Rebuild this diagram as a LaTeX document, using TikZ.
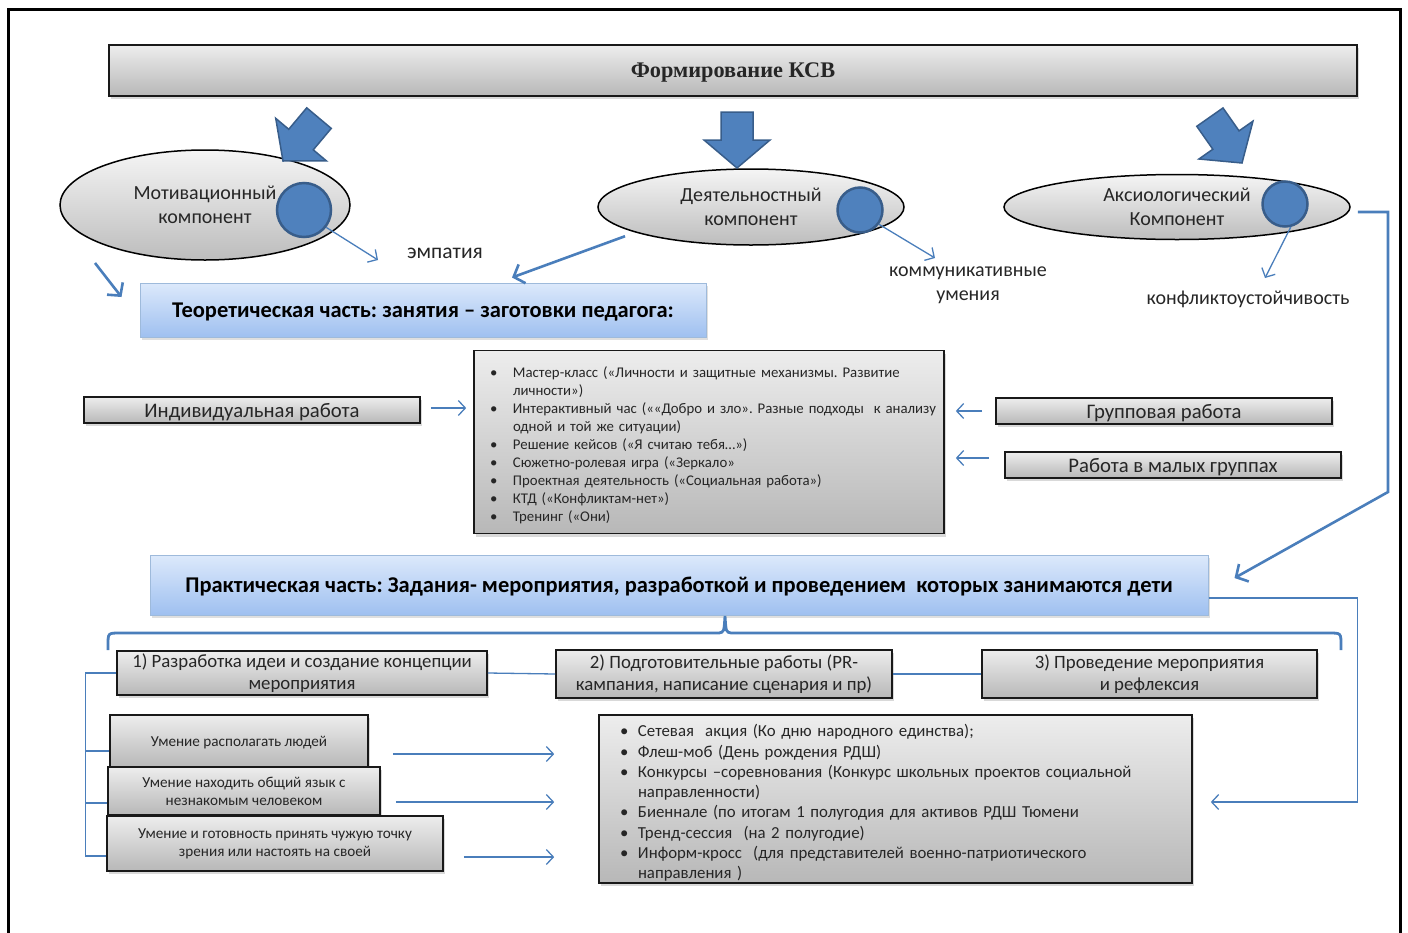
\documentclass[tikz,border=0pt]{standalone}
\usepackage{fontspec}
\setmainfont{Carlito}
\newfontfamily\titlefont{Liberation Serif}
\usetikzlibrary{arrows,arrows.meta,shapes,positioning,shadows,calc}
\definecolor{kbblue}{HTML}{4F81BD}
\definecolor{kbdark}{HTML}{385D8A}
\definecolor{kbline}{HTML}{4A7EBB}
\definecolor{kbsky}{HTML}{DCE9FB}
\definecolor{kbskydark}{HTML}{9FC0F0}
\newlength\bulpos
\newlength\bultext
\newcommand{\bulline}[1]{\par\noindent\hangindent=\bultext\hangafter=1\hbox to\bultext{\hskip\bulpos\textbullet\hfil}#1}
\newcommand{\blockarrow}[3]{%
  \draw[block arrow,shift={(#1,#2)},rotate=#3]
    (0,0) -- (-33,-28) -- (-16,-28) -- (-16,-56) -- (16,-56) -- (16,-28) -- (33,-28) -- cycle;}
\frenchspacing

\begin{document}
\begin{tikzpicture}[x=1pt,y=-1pt,>={Straight Barb[length=7pt,width=15pt]},
					gray box/.style={draw=black!90,line width=1.6pt,top color=black!7,bottom color=black!28,
						drop shadow={shadow xshift=2pt,shadow yshift=-3pt,opacity=0.3},
						inner sep=0pt,align=center,text=black!85},
					blue box/.style={draw=kbblue!55,line width=1pt,top color=kbsky,bottom color=kbskydark,
						drop shadow={shadow xshift=2pt,shadow yshift=-3pt,opacity=0.25},text depth=0pt,
						inner sep=0pt,align=center,font=\fontsize{22.5}{26}\selectfont\bfseries},
					comp node/.style={ellipse,draw=black,line width=1.5pt,top color=black!4,bottom color=black!26,
						align=center,inner sep=0pt,text=black!85,font=\fontsize{20}{24}\selectfont},
					dot node/.style={circle,draw=kbdark,line width=2.5pt,fill=kbblue,inner sep=0pt},
					block arrow/.style={fill=kbblue,draw=kbdark,line width=1.5pt,line join=miter},
					label text/.style={font=\fontsize{20}{24}\selectfont,align=center,inner sep=0pt,text=black!85},
					thin arrow/.style={->,draw=kbline,line width=1.3pt},
					thick arrow/.style={-{Straight Barb[length=9pt,width=20pt]},draw=kbline,line width=2.6pt},
					thin line/.style={draw=kbline,line width=1.3pt}]

	\useasboundingbox (0,0) rectangle (1408,932);
	\draw[line width=3pt] (8,935) -- (8,9) -- (1400,9) -- (1400,935);

	\node[gray box,minimum width=1248,minimum height=51,text depth=0pt,font=\titlefont\bfseries\fontsize{22.3}{26}\selectfont] (title) at (733,70.5) {Формирование КСВ};

	\node[comp node,minimum width=290,minimum height=110] (motiv) at (205,205) {Мотивационный\\компонент};
	\node[comp node,minimum width=306,minimum height=76] (activ) at (751,207) {Деятельностный\\компонент};
	\node[comp node,minimum width=346,minimum height=65] (axio) at (1177,207) {Аксиологический\\Компонент};
	\node[dot node,minimum size=54] (motivdot) at (304,210) {};
	\node[dot node,minimum size=45] (activdot) at (860,210) {};
	\node[dot node,minimum size=45] (axiodot) at (1285,204) {};

	\blockarrow{283}{161}{-40}
	\blockarrow{737}{168}{0}
	\blockarrow{1242}{163}{35}

	\node[label text,font=\fontsize{21.5}{24}\selectfont] (empathy) at (445,253) {эмпатия};
	\node[label text] (comm) at (968,285) {коммуникативные\\умения};
	\node[label text] (conflict) at (1248,299) {конфликтоустойчивость};
	\coordinate (emptip) at (378,260);
	\coordinate (commtip) at (935,258);
	\coordinate (conftip) at (1265,278);
	\coordinate (motivout) at (95,263);
	\coordinate (rightbend) at (1388,492);

	\node[blue box,minimum width=566,minimum height=54] (theory) at (423,310) {Теоретическая часть: занятия – заготовки педагога:};

	\node[gray box,minimum width=470,minimum height=183,text width=466,inner xsep=2pt,align=left,
		font=\fontsize{14.8}{18}\selectfont] (methods) at (709,442) {\bulpos=14pt\bultext=37pt\rightskip=-25pt plus 1fil
		\bulline{Мастер-класс («Личности и защитные механизмы. Развитие\newline личности»)}
		\bulline{Интерактивный час (««Добро и зло». Разные подходы~ к анализу\newline одной и той же ситуации)}
		\bulline{Решение кейсов («Я считаю тебя…»)}
		\bulline{Сюжетно-ролевая игра («Зеркало»}
		\bulline{Проектная деятельность («Социальная работа»)}
		\bulline{КТД («Конфликтам-нет»)}
		\bulline{Тренинг («Они)}\par};

	\node[gray box,minimum width=336,minimum height=26,text depth=0pt,font=\fontsize{20.7}{24}\selectfont] (indiv) at (252,410) {Индивидуальная работа};
	\node[gray box,minimum width=336,minimum height=26,text depth=0pt,font=\fontsize{20.7}{24}\selectfont] (group) at (1164,411) {Групповая работа};
	\node[gray box,minimum width=336,minimum height=26,text depth=0pt,font=\fontsize{20.7}{24}\selectfont] (small) at (1173,465) {Работа в малых группах};

	\node[blue box,minimum width=1058,minimum height=60] (practice) at (679,585) {Практическая часть: Задания- мероприятия, разработкой и проведением~ которых занимаются дети};

	\node[gray box,minimum width=370,minimum height=44,font=\fontsize{18.8}{22.5}\selectfont] (stage1) at (302,673) {1) Разработка идеи и создание концепции\\мероприятия};
	\node[gray box,minimum width=336,minimum height=48,font=\fontsize{18.8}{22.5}\selectfont] (stage2) at (724,674) {2) Подготовительные работы (PR-\\кампания, написание сценария и пр)};
	\node[gray box,minimum width=335,minimum height=48,font=\fontsize{18.8}{22.5}\selectfont] (stage3) at (1149.5,674) {3) Проведение мероприятия\\и рефлексия};

	\node[gray box,minimum width=258,minimum height=52,text depth=0pt,font=\fontsize{15.2}{18}\selectfont] (skill1) at (239,741) {Умение располагать людей};
	\node[gray box,minimum width=272,minimum height=48,font=\fontsize{15.2}{18}\selectfont] (skill2) at (244,791) {Умение находить общий язык с\\незнакомым человеком};
	\node[gray box,minimum width=336,minimum height=55,font=\fontsize{15.2}{18}\selectfont] (skill3) at (275,843.5) {Умение и готовность принять чужую точку\\зрения или настоять на своей};

	\node[gray box,minimum width=593,minimum height=168,text width=583,inner xsep=5pt,align=left,
		font=\fontsize{16.8}{20.3}\selectfont] (events) at (895.5,799) {\bulpos=16pt\bultext=34pt\rightskip=-20pt plus 1fil
		\bulline{Сетевая~ акция (Ко дню народного единства);}
		\bulline{Флеш-моб (День рождения РДШ)}
		\bulline{Конкурсы –соревнования (Конкурс школьных проектов социальной\newline направленности)}
		\bulline{Биеннале (по итогам 1 полугодия для активов РДШ Тюмени}
		\bulline{Тренд-сессия~ (на 2 полугодие)}
		\bulline{Информ-кросс~ (для представителей военно-патриотического\newline направления )}\par};

	\draw[thin arrow] (motivdot.-38) -- (emptip);
	\draw[thin arrow] (activdot.-37) -- (commtip);
	\draw[thin arrow] (axiodot.-76) -- (conftip);
	\draw[thick arrow] (motivout) -- ($(theory.west)+(-18,-13)$);
	\draw[thick arrow] ($(activ.190)+(0,7)$) -- ($(theory.north)+(89,-5)$);
	\draw[thick arrow] ($(axio.east)+(7,5)$) -| (rightbend) -- ($(practice.east)+(26,-7)$);

	\draw[thin arrow] ($(indiv.east)+(10,-2)$) -- ($(methods.west |- indiv.east)+(-7,-2)$);
	\draw[thin arrow] ($(group.west)+(-13,0)$) -- ($(methods.east |- group.west)+(11,0)$);
	\draw[thin arrow] ($(small.west)+(-15,-7)$) -- ($(methods.east |- small.west)+(11,-7)$);

	\coordinate (bracetip) at (725,616);
	\draw[draw=kbline,line width=2.8pt] (108,650) -- (108,645) .. controls (108,633) .. (120,633) -- (719,633) .. controls (724,632) .. (bracetip) .. controls (726,632) .. (731,633) -- (1329,633) .. controls (1341,633) .. (1341,645) -- (1341,650);

	\draw[thin line] (stage1.east) -- (stage2.west);
	\draw[thin line] (stage2.east) -- (stage3.west);
	\draw[thin line] (stage1.west) -| ($(skill3.west)+(-21,12.5)$) -- ($(skill3.west)+(0,12.5)$);
	\draw[thin line] ($(skill1.west)+(0,10)$) -- +(-24,0);
	\draw[thin line] ($(skill2.west)+(0,12)$) -- +(-22,0);

	\draw[thin arrow] ($(skill1.east)+(24,13)$) -- ($(events.west |- skill1.east)+(-44,13)$);
	\draw[thin arrow] ($(skill2.east)+(15,11)$) -- ($(events.west |- skill2.east)+(-44,11)$);
	\draw[thin arrow] ($(skill3.east)+(20,13.5)$) -- ($(events.west |- skill3.east)+(-44,13.5)$);
	\draw[thin arrow] ($(practice.east)+(0,13)$) -- ++(149,0) |- ($(events.east)+(18,3)$);

\end{tikzpicture}
\end{document}
